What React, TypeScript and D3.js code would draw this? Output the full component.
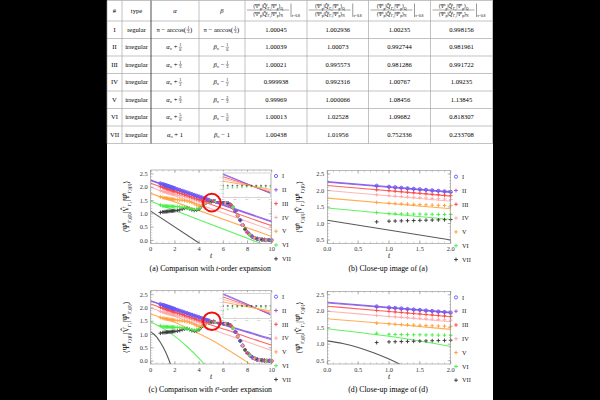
import React from "react";
import * as d3 from "d3";

const SERIF = "Liberation Serif, DejaVu Serif, serif";

// ---------------- table data ----------------
const rowIds = ["I", "II", "III", "IV", "V", "VI", "VII"];
const rowTypes = ["regular", "irregular", "irregular", "irregular", "irregular", "irregular", "irregular"];
const offsetNum = ["1", "1", "1", "1", "2", "5", "1"];
const offsetDen = ["3", "6", "3", "2", "3", "6", ""];
const ratioCol1 = ["1.00045", "1.00039", "1.00021", "0.999938", "0.99969", "1.00013", "1.00438"];
const ratioCol2 = ["1.002936", "1.00073", "0.995573", "0.992316", "1.000066", "1.02528", "1.01956"];
const ratioCol3 = ["1.00235", "0.992744", "0.981286", "1.00767", "1.08456", "1.09682", "0.752336"];
const ratioCol4 = ["0.998156", "0.981961", "0.991722", "1.09235", "1.13845", "0.818307", "0.233708"];
const headerOpSub = ["Γ₁", "Γ₂", "Γ₃", "Γ₄"];

// ---------------- chart data ----------------
const seriesColors = ["#5a5aff", "#a24fcc", "#ff4646", "#ffa8a8", "#ffa03a", "#48ee48", "#3a3a3a"];
const seriesShape = ["circle", "plus", "plus", "plus", "plus", "plus", "plus"];

// t-order expansion (straight lines), values at t = 0 and t = 10
const lineT1 = [0, 10];
const line1_I = [2.27, 0.72];
const line1_II = [2.25, 0.69];
const line1_III = [2.15, 0.55];
const line1_IV = [2.0, 0.38];
const line1_V = [1.77, 0.15];
const line1_VI = [1.47, -0.27];
const line1_VII = [1.1, -1.9];

// t^2-order expansion curves
const tGrid2 = [0, 1, 2, 3, 4, 5, 6, 7, 8, 9, 10];
const curve2_I = [2.27, 2.12, 1.97, 1.82, 1.67, 1.53, 1.38, 1.24, 1.11, 0.97, 0.84];
const curve2_II = [2.25, 2.1, 1.95, 1.8, 1.65, 1.5, 1.36, 1.22, 1.08, 0.94, 0.8];
const curve2_III = [2.15, 1.99, 1.83, 1.68, 1.52, 1.36, 1.21, 1.06, 0.9, 0.75, 0.6];
const curve2_IV = [2.0, 1.84, 1.68, 1.52, 1.36, 1.2, 1.04, 0.88, 0.72, 0.56, 0.4];
const curve2_V = [1.77, 1.62, 1.45, 1.25, 1.03, 0.8, 0.53, 0.25, -0.05, -0.38, -0.73];
const tGrid2VI = [0, 1, 2, 3, 4, 5, 6];
const curve2_VI = [1.47, 1.24, 0.93, 0.55, 0.1, -0.43, -1.03];
const tGrid2VII = [0, 0.25, 0.5, 0.75, 1.0, 1.25, 1.5, 1.75, 2.0];
const curve2_VII = [1.1, 1.02, 0.9, 0.74, 0.55, 0.32, 0.05, -0.26, -0.6];

// exact data (markers)
const headT = [0.8, 1.0, 1.1, 1.2, 1.3, 1.4, 1.5, 1.6, 1.7, 1.8, 1.9, 2.0, 2.2, 2.4, 2.6, 2.8, 3.0, 3.2, 3.4, 3.6, 3.8, 4.0, 4.2, 4.4, 4.6, 4.8];
const exactI = [2.146, 2.115, 2.1, 2.084, 2.069, 2.053, 2.038, 2.022, 2.007, 1.991, 1.976, 1.96, 1.929, 1.898, 1.867, 1.836, 1.805, 1.774, 1.743, 1.712, 1.681, 1.65, 1.619, 1.588, 1.56, 1.53];
const exactII = [2.125, 2.094, 2.08, 2.064, 2.05, 2.035, 2.02, 2.005, 1.99, 1.975, 1.96, 1.945, 1.915, 1.885, 1.855, 1.825, 1.795, 1.765, 1.735, 1.7, 1.67, 1.64, 1.61, 1.58, 1.55, 1.52];
const exactIII = [2.022, 1.995, 1.98, 1.965, 1.95, 1.935, 1.92, 1.905, 1.89, 1.875, 1.86, 1.845, 1.815, 1.785, 1.755, 1.725, 1.695, 1.665, 1.635, 1.6, 1.57, 1.54, 1.51, 1.48, 1.46, 1.46];
const exactIV = [1.87, 1.845, 1.832, 1.82, 1.808, 1.796, 1.785, 1.773, 1.762, 1.75, 1.74, 1.73, 1.71, 1.69, 1.67, 1.645, 1.62, 1.59, 1.56, 1.53, 1.5, 1.46, 1.42, 1.42, 1.44, 1.46];
const exactV = [1.637, 1.615, 1.605, 1.596, 1.588, 1.58, 1.572, 1.565, 1.558, 1.551, 1.545, 1.54, 1.53, 1.52, 1.51, 1.5, 1.48, 1.46, 1.43, 1.38, 1.33, 1.3, 1.32, 1.38, 1.43, 1.46];
const exactVI = [1.33, 1.3, 1.295, 1.29, 1.29, 1.285, 1.285, 1.28, 1.28, 1.275, 1.275, 1.27, 1.27, 1.26, 1.25, 1.24, 1.22, 1.2, 1.18, 1.16, 1.17, 1.22, 1.3, 1.37, 1.42, 1.45];
const exactVII = [1.05, 1.07, 1.075, 1.08, 1.085, 1.09, 1.095, 1.1, 1.105, 1.11, 1.115, 1.12, 1.13, 1.15, 1.18, 1.21, 1.22, 1.19, 1.15, 1.13, 1.14, 1.18, 1.27, 1.36, 1.42, 1.45];
const tailT = [5.0, 5.2, 5.4, 5.6, 5.8, 6.0, 6.2, 6.4, 6.6, 6.8, 7.0, 7.2, 7.4, 7.6, 7.8, 8.0, 8.2, 8.4, 8.6, 8.8, 9.0, 9.2, 9.4, 9.6, 9.8, 10.0];
const exactTail = [1.47, 1.48, 1.47, 1.45, 1.43, 1.42, 1.41, 1.39, 1.34, 1.24, 1.1, 0.93, 0.76, 0.58, 0.42, 0.3, 0.21, 0.14, 0.09, 0.06, 0.04, 0.03, 0.02, 0.01, 0.01, 0.0];

// inset data
const insetTA = [4.0, 6.0];
const insetLinesA = [[1.78, 1.3], [1.76, 1.31], [1.71, 1.33], [1.66, 1.36], [1.6, 1.4]];
const insetTC = [4.0, 5.0, 6.0];
const insetLinesC = [[1.8, 1.55, 1.28], [1.78, 1.54, 1.29], [1.72, 1.52, 1.32], [1.66, 1.5, 1.35], [1.6, 1.48, 1.38]];
const insetMarkT = [4.0, 4.2, 4.4, 4.6, 4.8, 5.0, 5.2, 5.4, 5.6, 5.8, 6.0];
const insetBlackA = [1.49, 1.49, 1.49, 1.49, 1.49, 1.49, 1.49, 1.49, 1.49, 1.49, 1.49];
const insetGreenA = [1.43, 1.43, 1.44, 1.44, 1.45, 1.46, 1.47, 1.47, 1.46, 1.46, 1.45];
const insetBlackC = [1.5, 1.5, 1.5, 1.5, 1.5, 1.5, 1.5, 1.5, 1.5, 1.5, 1.5];
const insetGreenC = [1.38, 1.42, 1.45, 1.47, 1.49, 1.5, 1.5, 1.49, 1.47, 1.45, 1.42];

const lines1 = [line1_I, line1_II, line1_III, line1_IV, line1_V, line1_VI, line1_VII];
const curves2 = [curve2_I, curve2_II, curve2_III, curve2_IV, curve2_V, curve2_VI, curve2_VII];
const curves2T = [tGrid2, tGrid2, tGrid2, tGrid2, tGrid2, tGrid2VI, tGrid2VII];
const exactSeries = [exactI, exactII, exactIII, exactIV, exactV, exactVI, exactVII];

type Seg = [string, "n" | "sup" | "sub"];

function Scripted({ x, y, segs, fs, anchor = "middle" }: { x: number; y: number; segs: Seg[]; fs: number; anchor?: string }) {
  let cur = 0;
  return (
    <text x={x} y={y} fontSize={fs} textAnchor={anchor} fill="#000">
      {segs.map(([s, k], i) => {
        const target = k === "sup" ? -fs * 0.38 : k === "sub" ? fs * 0.3 : 0;
        const dy = target - cur;
        cur = target;
        return (
          <tspan key={i} dy={dy} fontSize={k === "n" ? fs : fs * 0.66}>
            {s}
          </tspan>
        );
      })}
    </text>
  );
}

function Marker({ shape, x, y, color }: { shape: string; x: number; y: number; color: string }) {
  if (shape === "circle") return <circle cx={x} cy={y} r={1.6} fill="none" stroke={color} strokeWidth={0.9} />;
  return <path d={`M${x - 1.9},${y}H${x + 1.9}M${x},${y - 1.9}V${y + 1.9}`} stroke={color} strokeWidth={0.95} />;
}

function Frac({ x, cy, n, d, fs = 4.2 }: { x: number; cy: number; n: string; d: string; fs?: number }) {
  return (
    <g>
      <text x={x} y={cy - 0.8} fontSize={fs} textAnchor="middle" fill="#000">{n}</text>
      <line x1={x - 1.7} x2={x + 1.7} y1={cy} y2={cy} stroke="#000" strokeWidth={0.35} />
      <text x={x} y={cy + fs * 0.85} fontSize={fs} textAnchor="middle" fill="#000">{d}</text>
    </g>
  );
}

const colEdges = [107, 122, 151, 199, 245, 307, 368.5, 430.5, 492.5];
const rowEdges = [0.5, 21, 38.5, 56, 73.5, 91, 108.5, 126, 143.5];

function Table() {
  const fs = 6.6;
  const cx = (i: number) => (colEdges[i] + colEdges[i + 1]) / 2;
  const ratioCols = [ratioCol1, ratioCol2, ratioCol3, ratioCol4];
  const numSegs = (op: string, end: string): Seg[] => [
    ["⟨Ψ", "n"], ["t", "sup"], ["p", "sub"], ["|Q̂", "n"], ["t", "sup"], [op, "sub"],
    ["|Ψ", "n"], ["t", "sup"], ["p", "sub"], ["⟩", "n"], [end, "sub"],
  ];
  return (
    <g fontFamily={SERIF}>
      {rowEdges.map((y, i) => (
        <line key={"h" + i} x1={colEdges[0]} x2={colEdges[colEdges.length - 1]} y1={y} y2={y} stroke="#9a9a9a" strokeWidth={0.6} />
      ))}
      {colEdges.map((x, i) => (
        <line key={"v" + i} x1={x} x2={x} y1={rowEdges[0]} y2={rowEdges[rowEdges.length - 1]}
          stroke={i === 2 ? "#222" : "#9a9a9a"} strokeWidth={i === 2 ? 0.8 : 0.6} />
      ))}
      <text x={cx(0)} y={12.5} fontSize={fs} textAnchor="middle" fill="#000">#</text>
      <text x={cx(1)} y={12.5} fontSize={fs} textAnchor="middle" fill="#000">type</text>
      <text x={cx(2)} y={12.5} fontSize={fs} textAnchor="middle" fontStyle="italic" fill="#000">α</text>
      <text x={cx(3)} y={12.5} fontSize={fs} textAnchor="middle" fontStyle="italic" fill="#000">β</text>
      {headerOpSub.map((op, k) => {
        const c = cx(4 + k) - 8;
        return (
          <g key={"hf" + k}>
            <Scripted x={c} y={8} segs={numSegs(op, "Q")} fs={5.3} />
            <line x1={c - 21} x2={c + 21} y1={10} y2={10} stroke="#000" strokeWidth={0.35} />
            <Scripted x={c} y={15.8} segs={numSegs(op, "N")} fs={5.3} />
            <line x1={c + 23} x2={c + 23} y1={3.5} y2={17} stroke="#000" strokeWidth={0.4} />
            <text x={c + 24} y={17} fontSize={3.8} fill="#000">t=0.8</text>
          </g>
        );
      })}
      {rowIds.map((id, r) => {
        const cyRow = (rowEdges[r + 1] + rowEdges[r + 2]) / 2;
        const by = cyRow + 2.2;
        const a = cx(2);
        const b = cx(3);
        let alphaEl: React.ReactNode;
        let betaEl: React.ReactNode;
        if (r === 0) {
          alphaEl = (
            <g>
              <text x={a + 11} y={by} fontSize={fs} textAnchor="end" fill="#000">π − arccos(</text>
              <Frac x={a + 13.2} cy={cyRow} n={offsetNum[r]} d={offsetDen[r]} />
              <text x={a + 15} y={by} fontSize={fs} fill="#000">)</text>
            </g>
          );
          betaEl = (
            <g>
              <text x={b + 11} y={by} fontSize={fs} textAnchor="end" fill="#000">π − arccos(</text>
              <Frac x={b + 13.2} cy={cyRow} n={offsetNum[r]} d={offsetDen[r]} />
              <text x={b + 15} y={by} fontSize={fs} fill="#000">)</text>
            </g>
          );
        } else if (offsetDen[r] === "") {
          alphaEl = (
            <text x={a} y={by} fontSize={fs} textAnchor="middle" fill="#000">
              <tspan fontStyle="italic">α</tspan>₀ + {offsetNum[r]}
            </text>
          );
          betaEl = (
            <text x={b} y={by} fontSize={fs} textAnchor="middle" fill="#000">
              <tspan fontStyle="italic">β</tspan>₀ − {offsetNum[r]}
            </text>
          );
        } else {
          alphaEl = (
            <g>
              <text x={a + 2.5} y={by} fontSize={fs} textAnchor="end" fill="#000">
                <tspan fontStyle="italic">α</tspan>₀ +
              </text>
              <Frac x={a + 5.4} cy={cyRow} n={offsetNum[r]} d={offsetDen[r]} />
            </g>
          );
          betaEl = (
            <g>
              <text x={b + 2.5} y={by} fontSize={fs} textAnchor="end" fill="#000">
                <tspan fontStyle="italic">β</tspan>₀ −
              </text>
              <Frac x={b + 5.4} cy={cyRow} n={offsetNum[r]} d={offsetDen[r]} />
            </g>
          );
        }
        return (
          <g key={"r" + r}>
            <text x={cx(0)} y={by} fontSize={fs} textAnchor="middle" fill="#000">{id}</text>
            <text x={cx(1)} y={by} fontSize={fs} textAnchor="middle" fill="#000">{rowTypes[r]}</text>
            {alphaEl}
            {betaEl}
            {ratioCols.map((col, k) => (
              <text key={k} x={cx(4 + k)} y={by} fontSize={fs} textAnchor="middle" fill="#000">{col[r]}</text>
            ))}
          </g>
        );
      })}
    </g>
  );
}

interface LineDef { t: number[]; v: number[]; color: string }

interface InsetProps {
  id: string; x0: number; x1: number; yTop: number; yBot: number;
  lineT: number[]; lines: number[][]; black: number[]; green: number[];
}

function Inset(p: InsetProps) {
  const x = d3.scaleLinear().domain([4, 6]).range([p.x0, p.x1]);
  const y = d3.scaleLinear().domain([1.2, 1.8]).range([p.yBot, p.yTop]);
  const gen = d3.line<[number, number]>().x((d) => x(d[0])).y((d) => y(d[1])).curve(d3.curveNatural);
  const clip = "iclip-" + p.id;
  return (
    <g>
      <rect x={p.x0 - 7} y={p.yTop - 1.5} width={p.x1 - p.x0 + 8} height={p.yBot - p.yTop + 5} fill="#fff" />
      <clipPath id={clip}><rect x={p.x0} y={p.yTop} width={p.x1 - p.x0} height={p.yBot - p.yTop} /></clipPath>
      <g clipPath={`url(#${clip})`}>
        {p.lines.map((v, i) => (
          <path key={i} d={gen(p.lineT.map((t, j) => [t, v[j]]) as [number, number][]) || ""} fill="none" stroke={seriesColors[i]} strokeWidth={0.9} opacity={0.9} />
        ))}
        {insetMarkT.map((t, j) => (
          <g key={j}>
            <path d={`M${x(t) - 1},${y(p.green[j])}H${x(t) + 1}M${x(t)},${y(p.green[j]) - 1}V${y(p.green[j]) + 1}`} stroke={seriesColors[5]} strokeWidth={0.6} />
            <path d={`M${x(t) - 1},${y(p.black[j])}H${x(t) + 1}M${x(t)},${y(p.black[j]) - 1}V${y(p.black[j]) + 1}`} stroke={seriesColors[6]} strokeWidth={0.6} />
          </g>
        ))}
      </g>
      <rect x={p.x0} y={p.yTop} width={p.x1 - p.x0} height={p.yBot - p.yTop} fill="none" stroke="#999" strokeWidth={0.4} />
      {[4, 4.5, 5, 5.5, 6].map((t) => (
        <g key={"ix" + t}>
          <line x1={x(t)} x2={x(t)} y1={p.yBot} y2={p.yBot - 1.2} stroke="#999" strokeWidth={0.3} />
          <text x={x(t)} y={p.yBot + 2.8} fontSize={2.4} textAnchor="middle" fill="#777">{t.toFixed(1)}</text>
        </g>
      ))}
      {[1.3, 1.4, 1.5, 1.6, 1.7].map((v) => (
        <g key={"iy" + v}>
          <line x1={p.x0} x2={p.x0 + 1.2} y1={y(v)} y2={y(v)} stroke="#999" strokeWidth={0.3} />
          <text x={p.x0 - 0.8} y={y(v) + 0.8} fontSize={2.4} textAnchor="end" fill="#777">{v.toFixed(1)}</text>
        </g>
      ))}
    </g>
  );
}

interface PanelProps {
  id: string;
  x0: number; x1: number; yTop: number; yBot: number;
  xDomain: [number, number]; yDomain: [number, number];
  xTicks: number[]; xMinorStep: number; yTicks: number[]; yMinorStep: number;
  xFmt: (d: number) => string;
  lines: LineDef[]; curve: d3.CurveFactory;
  legendX: number; ylabelX: number;
  caption: React.ReactNode;
  circle?: { t: number; v: number };
  inset?: React.ReactNode;
}

const ylabelSegs: Seg[] = [
  ["⟨Ψ̂", "n"], ["t", "sup"], ["Γ,(β)", "sub"], ["|V̂", "n"], ["Γ₁", "sub"],
  ["|Ψ̂", "n"], ["t", "sup"], ["Γ,(β)", "sub"], ["⟩", "n"],
];

function Panel(p: PanelProps) {
  const x = d3.scaleLinear().domain(p.xDomain).range([p.x0, p.x1]);
  const y = d3.scaleLinear().domain(p.yDomain).range([p.yBot, p.yTop]);
  const gen = d3.line<[number, number]>().x((d) => x(d[0])).y((d) => y(d[1])).curve(p.curve);
  const clipId = "clip-" + p.id;
  const eps = 1e-6;
  const inX = (t: number) => t >= p.xDomain[0] - eps && t <= p.xDomain[1] + eps;
  const inY = (v: number) => v >= p.yDomain[0] && v <= p.yDomain[1];
  const frame = "#8c8c8c";
  const markers: React.ReactNode[] = [];
  for (let s = 6; s >= 0; s--) {
    exactSeries[s].forEach((v, i) => {
      const t = headT[i];
      if (inX(t) && inY(v)) markers.push(<Marker key={`h${s}-${i}`} shape={seriesShape[s]} x={x(t)} y={y(v)} color={seriesColors[s]} />);
    });
  }
  tailT.forEach((t, j) => {
    if (!inX(t)) return;
    for (let k = 0; k < 7; k++) {
      const s = (j * 3 + k) % 7;
      const v = exactTail[j];
      if (inY(v)) markers.push(<Marker key={`t${s}-${j}`} shape={seriesShape[s]} x={x(t)} y={y(v)} color={seriesColors[s]} />);
    }
  });
  const xMinor = d3.range(p.xDomain[0], p.xDomain[1] + eps, p.xMinorStep);
  const yMinor = d3.range(Math.ceil(p.yDomain[0] / p.yMinorStep) * p.yMinorStep, p.yDomain[1] + eps, p.yMinorStep);
  const cxm = (p.x0 + p.x1) / 2;
  return (
    <g fontFamily={SERIF}>
      <clipPath id={clipId}>
        <rect x={p.x0} y={p.yTop} width={p.x1 - p.x0} height={p.yBot - p.yTop} />
      </clipPath>
      <g clipPath={`url(#${clipId})`}>
        {p.lines.map((l, i) => (
          <path key={i} d={gen(l.t.map((t, j) => [t, l.v[j]]) as [number, number][]) || ""} fill="none" stroke={l.color} strokeWidth={1.1} opacity={0.85} />
        ))}
      </g>
      {markers}
      <rect x={p.x0} y={p.yTop} width={p.x1 - p.x0} height={p.yBot - p.yTop} fill="none" stroke={frame} strokeWidth={0.6} />
      {xMinor.map((t, i) => (
        <g key={"xm" + i}>
          <line x1={x(t)} x2={x(t)} y1={p.yBot} y2={p.yBot - 1.6} stroke={frame} strokeWidth={0.4} />
          <line x1={x(t)} x2={x(t)} y1={p.yTop} y2={p.yTop + 1.6} stroke={frame} strokeWidth={0.4} />
        </g>
      ))}
      {yMinor.map((v, i) => (
        <g key={"ym" + i}>
          <line x1={p.x0} x2={p.x0 + 1.6} y1={y(v)} y2={y(v)} stroke={frame} strokeWidth={0.4} />
          <line x1={p.x1} x2={p.x1 - 1.6} y1={y(v)} y2={y(v)} stroke={frame} strokeWidth={0.4} />
        </g>
      ))}
      {p.xTicks.map((t) => (
        <g key={"xt" + t}>
          <line x1={x(t)} x2={x(t)} y1={p.yBot} y2={p.yBot - 3} stroke={frame} strokeWidth={0.6} />
          <line x1={x(t)} x2={x(t)} y1={p.yTop} y2={p.yTop + 3} stroke={frame} strokeWidth={0.6} />
          <text x={x(t)} y={p.yBot + 8} fontSize={6.4} textAnchor="middle" fill="#333">{p.xFmt(t)}</text>
        </g>
      ))}
      {p.yTicks.map((v) => (
        <g key={"yt" + v}>
          <line x1={p.x0} x2={p.x0 + 3} y1={y(v)} y2={y(v)} stroke={frame} strokeWidth={0.6} />
          <line x1={p.x1} x2={p.x1 - 3} y1={y(v)} y2={y(v)} stroke={frame} strokeWidth={0.6} />
          <text x={p.x0 - 3} y={y(v) + 2.2} fontSize={6.4} textAnchor="end" fill="#333">{v.toFixed(1)}</text>
        </g>
      ))}
      {p.inset}
      {p.circle && (
        <circle cx={x(p.circle.t)} cy={y(p.circle.v)} r={8.8} fill="none" stroke="#ee1111" strokeWidth={2} />
      )}
      <text x={cxm} y={p.yBot + 15} fontSize={7.8} fontStyle="italic" textAnchor="middle" fill="#111">t</text>
      <g transform={`translate(${p.ylabelX},${(p.yTop + p.yBot) / 2}) rotate(-90)`}>
        <Scripted x={0} y={0} segs={ylabelSegs} fs={7.6} />
      </g>
      {rowIds.map((name, i) => {
        const ly = p.yTop + 6 + i * 13.8;
        return (
          <g key={"lg" + i}>
            <Marker shape={seriesShape[i]} x={p.legendX} y={ly} color={seriesColors[i]} />
            <text x={p.legendX + 6} y={ly + 2.2} fontSize={6.4} fill="#222">{name}</text>
          </g>
        );
      })}
      <text x={cxm - 1} y={p.yBot + 27.5} fontSize={7.8} textAnchor="middle" fill="#000">{p.caption}</text>
    </g>
  );
}

export default function App() {
  const linesA: LineDef[] = lines1.map((v, i) => ({ t: lineT1, v, color: seriesColors[i] }));
  const linesC: LineDef[] = curves2.map((v, i) => ({ t: curves2T[i], v, color: seriesColors[i] }));
  const bigX = { xDomain: [0, 10] as [number, number], xTicks: [0, 2, 4, 6, 8, 10], xMinorStep: 0.5, xFmt: (d: number) => d3.format("d")(d) };
  const bigY = { yDomain: [-0.11, 2.65] as [number, number], yTicks: [0, 0.5, 1, 1.5, 2, 2.5], yMinorStep: 0.1 };
  const smallX = { xDomain: [0, 2] as [number, number], xTicks: [0, 0.5, 1, 1.5, 2], xMinorStep: 0.1, xFmt: (d: number) => d.toFixed(1) };
  const smallY = { yDomain: [0.4, 2.6] as [number, number], yTicks: [0.5, 1, 1.5, 2, 2.5], yMinorStep: 0.1 };
  return (
    <svg width={600} height={400} style={{ position: "absolute", left: 0, top: 0 }} fontFamily={SERIF}>
      <rect width={600} height={400} fill="#000" />
      <rect x={107} y={0} width={386} height={400} fill="#fff" />
      <Table />
      <Panel id="a" x0={150.7} x1={271.7} yTop={170} yBot={243.3} {...bigX} {...bigY}
        lines={linesA} curve={d3.curveLinear} legendX={276} ylabelX={128.5}
        circle={{ t: 5.05, v: 1.42 }}
        inset={<Inset id="a" x0={223} x1={270.5} yTop={173} yBot={197.5} lineT={insetTA} lines={insetLinesA} black={insetBlackA} green={insetGreenA} />}
        caption={<>(a) Comparison with <tspan fontStyle="italic">t</tspan>-order expansion</>} />
      <Panel id="b" x0={327.3} x1={450.7} yTop={170.7} yBot={243.3} {...smallX} {...smallY}
        lines={linesA} curve={d3.curveLinear} legendX={456} ylabelX={302}
        caption={<>(b) Close-up image of (a)</>} />
      <Panel id="c" x0={150.7} x1={271.7} yTop={290.7} yBot={364} {...bigX} {...bigY}
        lines={linesC} curve={d3.curveNatural} legendX={276} ylabelX={128.5}
        circle={{ t: 5.05, v: 1.5 }}
        inset={<Inset id="c" x0={223} x1={270.5} yTop={293.7} yBot={318.2} lineT={insetTC} lines={insetLinesC} black={insetBlackC} green={insetGreenC} />}
        caption={<>(c) Comparison with <tspan fontStyle="italic">t</tspan>²-order expansion</>} />
      <Panel id="d" x0={327.3} x1={450.7} yTop={291.4} yBot={364} {...smallX} {...smallY}
        lines={linesC} curve={d3.curveNatural} legendX={456} ylabelX={302}
        caption={<>(d) Close-up image of (d)</>} />
    </svg>
  );
}
